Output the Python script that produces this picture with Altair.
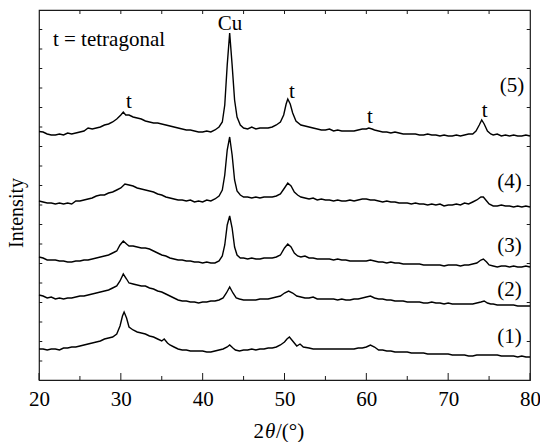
import altair as alt
import pandas as pd

# XRD patterns: (2theta in degrees, intensity in arbitrary offset units)
pattern_5 = [
    (20, 248.5), (20.5, 248), (21, 246), (21.5, 245), (22, 245), (22.5, 246), (23, 245), (23.5, 247),
    (24, 246), (24.5, 247), (25, 248), (25.5, 249), (26, 252), (26.5, 251), (27, 252), (27.5, 253),
    (28, 255), (28.5, 256), (29, 258), (29.5, 261), (30, 265), (30.3, 268), (30.6, 265), (31, 265),
    (31.5, 263), (32, 262), (32.5, 261), (33, 259), (33.5, 258), (34, 257), (34.5, 257), (35, 256),
    (35.5, 255), (36, 254), (36.5, 253), (37, 252), (37.5, 251), (38, 250), (38.5, 250), (39, 249),
    (39.5, 248), (40, 248), (40.5, 249), (41, 248), (41.5, 250), (42, 253), (42.4, 258), (42.7, 275),
    (43.0, 315), (43.3, 347), (43.6, 315), (43.9, 280), (44.2, 263), (44.6, 255), (45, 252), (45.5, 251),
    (46, 253), (46.5, 251), (47, 252), (47.5, 252), (48, 252), (48.5, 253), (49, 255), (49.5, 258),
    (49.9, 265), (50.2, 276), (50.4, 281), (50.7, 276), (51, 267), (51.4, 259), (52, 255), (52.5, 254),
    (53, 253), (53.5, 252), (54, 251), (54.5, 250), (55, 250), (55.5, 251), (56, 249), (56.5, 250),
    (57, 249), (57.5, 249), (58, 249), (58.5, 249), (59, 250), (59.5, 251), (60, 251), (60.3, 252),
    (60.7, 251), (61, 250), (61.5, 249), (62, 248), (62.5, 248), (63, 247), (63.5, 248), (64, 247),
    (64.5, 246), (65, 246), (65.5, 246), (66, 246), (66.5, 245), (67, 245), (67.5, 246), (68, 245),
    (68.5, 245), (69, 244), (69.5, 245), (70, 244), (70.5, 244), (71, 245), (71.5, 244), (72, 245),
    (72.5, 246), (73, 246), (73.4, 249), (73.8, 255), (74.1, 260), (74.4, 256), (74.8, 249), (75.2, 246),
    (75.5, 245), (76, 246), (76.5, 244), (77, 245), (77.5, 244), (78, 245), (78.5, 244), (79, 244),
    (79.5, 245), (80, 244),
]

pattern_4 = [
    (20, 179), (20.5, 178), (21, 177), (21.5, 177), (22, 176), (22.5, 177), (23, 176), (23.5, 177),
    (24, 176), (24.5, 179), (25, 179), (25.5, 180), (26, 181), (26.5, 182), (27, 184), (27.5, 185),
    (28, 185), (28.5, 187), (29, 188), (29.5, 190), (30, 192), (30.5, 196), (31, 195), (31.5, 194),
    (32, 192), (32.5, 191), (33, 190), (33.5, 189), (34, 188), (34.5, 186), (35, 185), (35.5, 183),
    (36, 182), (36.5, 181), (37, 180), (37.5, 180), (38, 179), (38.5, 180), (39, 178), (39.5, 179),
    (40, 178), (40.5, 180), (41, 179), (41.5, 181), (42, 184), (42.4, 190), (42.7, 205), (43.0, 230),
    (43.3, 243), (43.6, 225), (43.9, 200), (44.2, 189), (44.6, 185), (45, 183), (45.5, 183), (46, 182),
    (46.5, 183), (47, 182), (47.5, 183), (48, 183), (48.5, 183), (49, 184), (49.5, 186), (50, 192),
    (50.4, 197), (50.8, 194), (51.2, 188), (51.6, 185), (52, 183), (52.5, 182), (53, 181), (53.5, 182),
    (54, 180), (54.5, 181), (55, 180), (55.5, 180), (56, 179), (56.5, 180), (57, 179), (57.5, 179),
    (58, 180), (58.5, 179), (59, 180), (59.5, 181), (60, 181), (60.5, 180), (61, 180), (61.5, 179),
    (62, 178), (62.5, 179), (63, 178), (63.5, 178), (64, 177), (64.5, 177), (65, 177), (65.5, 176),
    (66, 177), (66.5, 176), (67, 176), (67.5, 175), (68, 176), (68.5, 175), (69, 176), (69.5, 174),
    (70, 175), (70.5, 175), (71, 176), (71.5, 175), (72, 177), (72.5, 176), (73, 178), (73.5, 180),
    (74, 183), (74.3, 183), (74.7, 179), (75, 176), (75.5, 174), (76, 174), (76.5, 175), (77, 174),
    (77.5, 174), (78, 173), (78.5, 174), (79, 173), (79.5, 174), (80, 173),
]

pattern_3 = [
    (20, 123), (20.5, 122), (21, 120), (21.5, 120), (22, 120), (22.5, 119), (23, 119), (23.5, 118),
    (24, 118), (24.5, 119), (25, 119), (25.5, 120), (26, 120), (26.5, 121), (27, 122), (27.5, 123),
    (28, 124), (28.5, 125), (29, 127), (29.5, 129), (29.9, 135), (30.3, 139), (30.7, 136), (31, 134),
    (31.5, 134), (32, 133), (32.5, 132), (33, 132), (33.5, 131), (34, 129), (34.5, 127), (35, 125),
    (35.5, 124), (36, 122), (36.5, 121), (37, 120), (37.5, 120), (38, 119), (38.5, 119), (39, 118),
    (39.5, 118), (40, 117), (40.5, 118), (41, 117), (41.5, 117), (42, 119), (42.4, 124), (42.7, 135),
    (43.0, 155), (43.3, 164), (43.6, 152), (43.9, 133), (44.2, 125), (44.6, 122), (45, 122), (45.5, 121),
    (46, 122), (46.5, 121), (47, 121), (47.5, 122), (48, 122), (48.5, 122), (49, 123), (49.5, 125),
    (50, 132), (50.4, 136), (50.8, 133), (51.2, 127), (51.6, 124), (52, 123), (52.5, 124), (53, 122),
    (53.5, 122), (54, 121), (54.5, 121), (55, 121), (55.5, 121), (56, 120), (56.5, 121), (57, 120),
    (57.5, 120), (58, 119), (58.5, 119), (59, 119), (59.5, 119), (60, 119), (60.5, 120), (61, 119),
    (61.5, 118), (62, 118), (62.5, 117), (63, 118), (63.5, 117), (64, 117), (64.5, 116), (65, 116),
    (65.5, 116), (66, 116), (66.5, 116), (67, 115), (67.5, 115), (68, 115), (68.5, 115), (69, 115),
    (69.5, 114), (70, 115), (70.5, 115), (71, 115), (71.5, 114), (72, 115), (72.5, 115), (73, 116),
    (73.5, 117), (74, 120), (74.3, 121), (74.7, 118), (75, 115), (75.5, 114), (76, 113), (76.5, 114),
    (77, 114), (77.5, 113), (78, 114), (78.5, 113), (79, 113), (79.5, 114), (80, 113),
]

pattern_2 = [
    (20, 85), (20.5, 84), (21, 82), (21.5, 83), (22, 81), (22.5, 82), (23, 81), (23.5, 82),
    (24, 82), (24.5, 83), (25, 84), (25.5, 84), (26, 85), (26.5, 86), (27, 87), (27.5, 88),
    (28, 89), (28.5, 90), (29, 92), (29.5, 94), (29.9, 99), (30.3, 106), (30.7, 101), (31, 97),
    (31.5, 96), (32, 95), (32.5, 94), (33, 94), (33.5, 92), (34, 91), (34.5, 89), (35, 88),
    (35.5, 86), (36, 84), (36.5, 82), (37, 80), (37.5, 79), (38, 79), (38.5, 78), (39, 78),
    (39.5, 77), (40, 78), (40.5, 78), (41, 79), (41.5, 79), (42, 80), (42.5, 82), (42.9, 87),
    (43.3, 93), (43.7, 87), (44.1, 82), (44.5, 81), (45, 80), (45.5, 80), (46, 80), (46.5, 80),
    (47, 81), (47.5, 81), (48, 81), (48.5, 82), (49, 83), (49.5, 84), (50, 87), (50.5, 89),
    (51, 87), (51.5, 84), (52, 83), (52.5, 82), (53, 82), (53.5, 83), (54, 81), (54.5, 81),
    (55, 81), (55.5, 81), (56, 81), (56.5, 80), (57, 81), (57.5, 80), (58, 80), (58.5, 81),
    (59, 81), (59.5, 82), (60, 83), (60.5, 84), (61, 82), (61.5, 81), (62, 81), (62.5, 80),
    (63, 80), (63.5, 79), (64, 79), (64.5, 79), (65, 78), (65.5, 78), (66, 78), (66.5, 78),
    (67, 77), (67.5, 77), (68, 78), (68.5, 77), (69, 77), (69.5, 76), (70, 77), (70.5, 76),
    (71, 76), (71.5, 76), (72, 76), (72.5, 76), (73, 76), (73.5, 77), (74, 78), (74.4, 79),
    (74.8, 77), (75.2, 76), (75.5, 76), (76, 75), (76.5, 75), (77, 75), (77.5, 75), (78, 75),
    (78.5, 74), (79, 74), (79.5, 74), (80, 74),
]

pattern_1 = [
    (20, 31), (20.5, 31), (21, 30), (21.5, 31), (22, 31), (22.5, 30), (23, 32), (23.5, 32),
    (24, 33), (24.5, 33), (25, 34), (25.5, 35), (26, 36), (26.5, 37), (27, 38), (27.5, 39),
    (28, 41), (28.5, 42), (29, 43), (29.5, 46), (29.9, 54), (30.2, 64), (30.4, 68), (30.7, 62),
    (31, 53), (31.5, 50), (32, 48), (32.5, 47), (33, 46), (33.5, 44), (34, 43), (34.5, 41),
    (35, 39), (35.3, 41), (35.7, 37), (36, 35), (36.5, 33), (37, 31), (37.5, 30), (38, 30),
    (38.5, 29), (39, 29), (39.5, 29), (40, 29), (40.5, 28), (41, 28), (41.5, 29), (42, 30),
    (42.5, 31), (43, 33), (43.3, 35), (43.7, 32), (44, 30), (44.5, 29), (45, 30), (45.5, 30),
    (46, 31), (46.5, 30), (47, 31), (47.5, 31), (48, 32), (48.5, 32), (49, 33), (49.5, 35),
    (50, 38), (50.3, 41), (50.6, 43), (51, 39), (51.5, 34), (51.9, 36), (52.3, 33), (53, 32),
    (53.5, 31), (54, 31), (54.5, 31), (55, 31), (55.5, 31), (56, 31), (56.5, 31), (57, 31),
    (57.5, 31), (58, 31), (58.5, 31), (59, 32), (59.5, 32), (60, 33), (60.5, 35), (61, 33),
    (61.5, 30), (62, 30), (62.5, 29), (63, 29), (63.5, 28), (64, 28), (64.5, 28), (65, 28),
    (65.5, 27), (66, 27), (66.5, 27), (67, 27), (67.5, 26), (68, 26), (68.5, 26), (69, 26),
    (69.5, 26), (70, 26), (70.5, 25), (71, 25), (71.5, 25), (72, 25), (72.5, 24), (73, 24),
    (73.5, 25), (74, 25), (74.5, 25), (75, 25), (75.5, 25), (76, 25), (76.5, 24), (77, 24),
    (77.5, 24), (78, 24), (78.5, 23), (79, 24), (79.5, 23), (80, 23),
]

patterns = {"1": pattern_1, "2": pattern_2, "3": pattern_3, "4": pattern_4, "5": pattern_5}

# Sample labels: (label, 2theta, intensity position)
sample_labels = ["(5)", "(4)", "(3)", "(2)", "(1)"]
sample_label_x = [77.8, 77.5, 77.5, 77.5, 77.5]
sample_label_y = [288, 192, 128, 84, 37]

# Peak annotations
peak_text = ["Cu", "t", "t", "t", "t"]
peak_x = [43.35, 31.0, 50.9, 60.45, 74.45]
peak_y = [350, 272, 282, 257, 263]

x_ticks_major = [20, 30, 40, 50, 60, 70, 80]
x_ticks_minor = [25, 35, 45, 55, 65, 75]
y_tick_step = 19.5
y_ticks_left = [370 - y_tick_step * k for k in range(1, 19)]
y_ticks_right = [370 - y_tick_step * k for k in range(1, 19, 2)]

FONT = "Times New Roman, Liberation Serif, Times, serif"
INK = "#1a1a1a"

rows = []
for name, pts in patterns.items():
    for a, v in pts:
        rows.append({"angle": a, "intensity": v, "sample": name})
df = pd.DataFrame(rows)

xs = alt.Scale(domain=[20, 80], nice=False, zero=False)
ys = alt.Scale(domain=[0, 370], nice=False, zero=False)

lines = alt.Chart(df).mark_line(color="black", strokeWidth=1.4).encode(
    x=alt.X("angle:Q", scale=xs,
            axis=alt.Axis(values=x_ticks_major, title=None, grid=False, ticks=False, domain=False,
                          labelFont=FONT, labelFontSize=21, labelColor="black", labelPadding=8,
                          labelFlush=False)),
    y=alt.Y("intensity:Q", scale=ys, axis=None),
    detail="sample:N",
    order="angle:Q",
)

def tick_layer(df_t):
    return alt.Chart(df_t).mark_rule(color=INK, strokeWidth=1).encode(
        x=alt.X("x:Q", scale=xs),
        x2="x2:Q",
        y=alt.Y("y:Q", scale=ys),
        y2="y2:Q",
    )

bx_major = pd.DataFrame({"x": x_ticks_major, "x2": x_ticks_major, "y": [0] * 7, "y2": [7] * 7})
bx_minor = pd.DataFrame({"x": x_ticks_minor, "x2": x_ticks_minor, "y": [0] * 6, "y2": [4] * 6})
top_vals = x_ticks_minor + x_ticks_major[1:-1]
tx = pd.DataFrame({"x": top_vals, "x2": top_vals, "y": [370] * len(top_vals), "y2": [366] * len(top_vals)})
ly = pd.DataFrame({"x": [20] * len(y_ticks_left), "x2": [20.4] * len(y_ticks_left),
                   "y": y_ticks_left, "y2": y_ticks_left})
ry = pd.DataFrame({"x": [79.6] * len(y_ticks_right), "x2": [80] * len(y_ticks_right),
                   "y": y_ticks_right, "y2": y_ticks_right})

ticks = [tick_layer(d) for d in (bx_major, bx_minor, tx, ly, ry)]

lab_df = pd.DataFrame({"label": sample_labels, "x": sample_label_x, "y": sample_label_y})
sample_text = alt.Chart(lab_df).mark_text(font=FONT, fontSize=21, color="black", align="center",
                                          baseline="alphabetic").encode(
    x=alt.X("x:Q", scale=xs), y=alt.Y("y:Q", scale=ys), text="label:N")

peak_df = pd.DataFrame({"label": peak_text, "x": peak_x, "y": peak_y})
peak_labels = alt.Chart(peak_df).mark_text(font=FONT, fontSize=21, color="black", align="center",
                                           baseline="alphabetic").encode(
    x=alt.X("x:Q", scale=xs), y=alt.Y("y:Q", scale=ys), text="label:N")

legend_note = alt.Chart(pd.DataFrame({"t": ["t = tetragonal"], "x": [21.7], "y": [334]})).mark_text(
    font=FONT, fontSize=21, color="black", align="left", baseline="alphabetic").encode(
    x=alt.X("x:Q", scale=xs), y=alt.Y("y:Q", scale=ys), text="t:N")

y_title = alt.Chart(pd.DataFrame({"t": ["Intensity"]})).mark_text(
    font=FONT, fontSize=20, color="black", angle=270, align="center", baseline="alphabetic").encode(
    x=alt.value(-16), y=alt.value(203), text="t:N")

x_title_a = alt.Chart(pd.DataFrame({"t": ["2"]})).mark_text(
    font=FONT, fontSize=21, color="black", align="right", baseline="alphabetic").encode(
    x=alt.value(225), y=alt.value(428), text="t:N")
x_title_b = alt.Chart(pd.DataFrame({"t": ["θ"]})).mark_text(
    font=FONT, fontSize=21, fontStyle="italic", color="black", align="left", baseline="alphabetic").encode(
    x=alt.value(226), y=alt.value(428), text="t:N")
x_title_c = alt.Chart(pd.DataFrame({"t": ["/(°)"]})).mark_text(
    font=FONT, fontSize=21, color="black", align="left", baseline="alphabetic").encode(
    x=alt.value(237), y=alt.value(428), text="t:N")

chart = alt.layer(
    lines, *ticks, sample_text, peak_labels, legend_note, y_title, x_title_a, x_title_b, x_title_c
).properties(
    width=491, height=370,
    padding={"left": 39, "top": 10, "right": 10, "bottom": 62},
    autosize=alt.AutoSizeParams(type="none"),
    background="white",
).configure_view(stroke=INK, strokeWidth=1.2)

chart.save("out.html", embed_options={"renderer": "svg", "actions": False})
